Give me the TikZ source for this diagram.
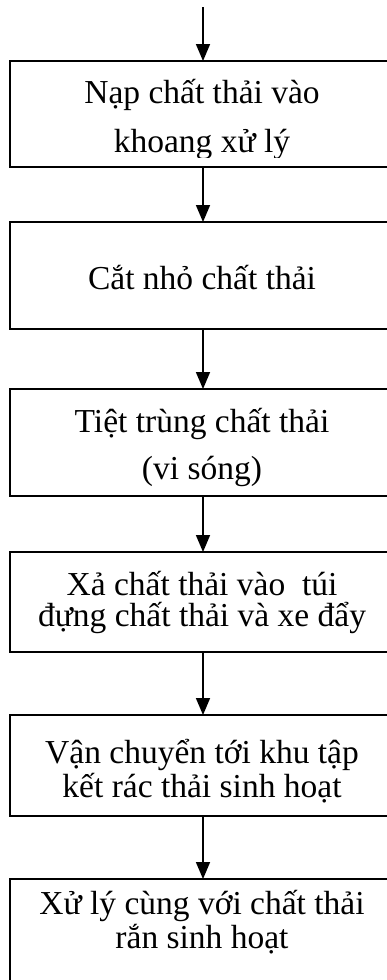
\documentclass[tikz,border=0pt]{standalone}
\usepackage{fontspec}
\setmainfont{Liberation Serif}
\usetikzlibrary{arrows.meta}
\begin{document}
\begin{tikzpicture}[x=1pt,y=1pt,
  stepbox/.style={draw, line width=1.7pt, rectangle, minimum width=440pt,
    inner sep=0pt, outer sep=0pt, anchor=north west},
  flow/.style={line width=1.7pt, -{Triangle[width=14pt,length=17pt]}},
  txt/.style={anchor=base, inner sep=0pt, font=\fontsize{33.5}{33.5}\selectfont}]
\useasboundingbox (0,0) rectangle (387,-980);
\clip (0,0) rectangle (387,-980);

% process boxes (they run past the right margin of the page)
\node[stepbox, minimum height=106pt] (b1) at (10,-61) {};
\node[stepbox, minimum height=107pt] (b2) at (10,-222) {};
\node[stepbox, minimum height=107pt] (b3) at (10,-389) {};
\node[stepbox, minimum height=100pt] (b4) at (10,-552) {};
\node[stepbox, minimum height=101pt] (b5) at (10,-715) {};
\node[stepbox, minimum height=140pt] (b6) at (10,-879) {};

% box texts
\node[txt] (t1a) at (202,-103) {Nạp chất thải vào};
\begin{scope}
  \clip (10,-61) rectangle (396,-157);
  \node[txt] (t1b) at (202,-152) {khoang xử lý};
\end{scope}
\node[txt] (t2) at (202,-289) {Cắt nhỏ chất thải};
\node[txt] (t3a) at (202,-432) {Tiệt trùng chất thải};
\begin{scope}
  \clip (10,-389) rectangle (396,-486);
  \node[txt] (t3b) at (202,-479) {(vi sóng)};
\end{scope}
\node[txt] (t4a) at (202,-595) {Xả chất thải vào\ \ túi};
\node[txt] (t4b) at (202,-626) {đựng chất thải và xe đẩy};
\node[txt] (t5a) at (202,-763) {Vận chuyển tới khu tập};
\node[txt] (t5b) at (202,-797) {kết rác thải sinh hoạt};
\node[txt] (t6a) at (202,-914) {Xử lý cùng với chất thải};
\node[txt] (t6b) at (202,-948) {rắn sinh hoạt};

% connectors along the flow axis
\coordinate (start) at (203,-7);
\draw[flow] (start) -- (b1.north -| start);
\draw[flow] (b1.south -| start) -- (b2.north -| start);
\draw[flow] (b2.south -| start) -- (b3.north -| start);
\draw[flow] (b3.south -| start) -- (b4.north -| start);
\draw[flow] (b4.south -| start) -- (b5.north -| start);
\draw[flow] (b5.south -| start) -- (b6.north -| start);
\end{tikzpicture}
\end{document}
